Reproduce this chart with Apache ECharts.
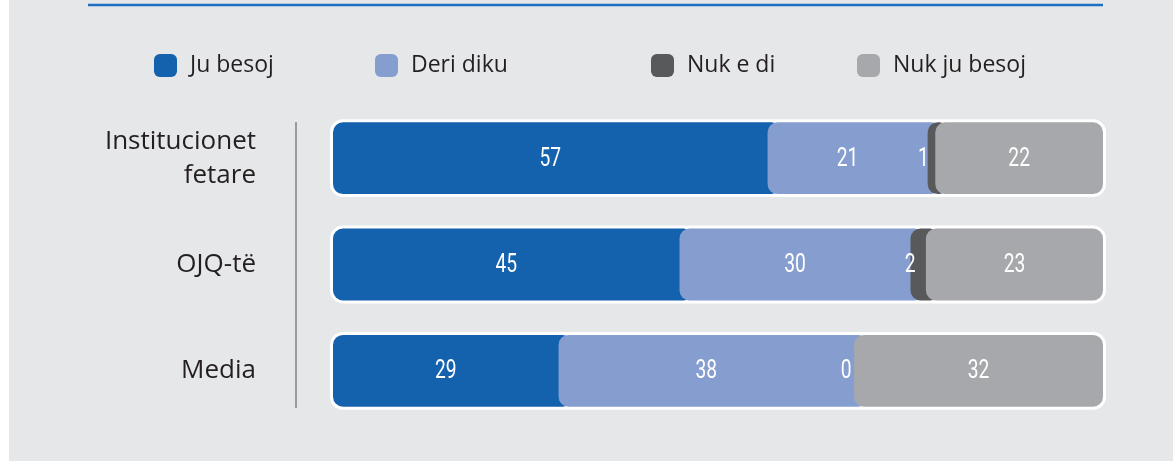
<!DOCTYPE html>
<html>
<head>
<meta charset="utf-8">
<script src="https://cdn.jsdelivr.net/npm/echarts@6/dist/echarts.min.js"></script>
<style>
  html, body { margin: 0; padding: 0; background: #fff; }
  #chart { width: 1173px; height: 461px; }
</style>
</head>
<body>
<div id="chart"></div>
<script>
const categories = ['Institucionet\nfetare', 'OJQ-të', 'Media'];
const seriesNames = ['Ju besoj', 'Deri diku', 'Nuk e di', 'Nuk ju besoj'];
const juBesoj = [57, 45, 29];
const deriDiku = [21, 30, 38];
const nukEDi = [1, 2, 0];
const nukJuBesoj = [22, 23, 32];
const colors = ['#1461ae', '#859dcf', '#58595b', '#a7a8ab'];
const legendLeft = [154, 375, 651, 857];

const allValues = [juBesoj, deriDiku, nukEDi, nukJuBesoj];

// every row is drawn as 100% of its own total
const rows = categories.map((c, i) => {
  const total = allValues.reduce((s, arr) => s + arr[i], 0);
  let acc = 0;
  return allValues.map(arr => {
    const start = acc / total * 100;
    acc += arr[i];
    return [start, acc / total * 100, i, arr[i]];
  });
});

const chart = echarts.init(document.getElementById('chart'));

function frameItem(params, api) {
  const cat = api.value(2);
  const p0 = api.coord([api.value(0), cat]);
  const p1 = api.coord([api.value(1), cat]);
  const h = api.size([0, 1])[1] * 0.675;
  return {
    type: 'rect',
    shape: { x: p0[0] - 3, y: p0[1] - h / 2 - 3, width: p1[0] - p0[0] + 6, height: h + 6, r: 13 },
    style: { fill: '#ffffff' }
  };
}

function segmentItem(k) {
  return function (params, api) {
    const cat = api.value(2);
    const val = api.value(3);
    const p0 = api.coord([api.value(0), cat]);
    const p1 = api.coord([api.value(1), cat]);
    const h = api.size([0, 1])[1] * 0.675;
    const last = k === allValues.length - 1;
    const children = [];
    if (val > 0) {
      children.push({
        type: 'rect',
        shape: { x: p0[0], y: p0[1] - h / 2, width: p1[0] - p0[0] + (last ? 0 : 14), height: h, r: 10 },
        style: { fill: colors[k] }
      });
    }
    const off = k === 2 ? -8 : 0;
    // narrow digits like the original condensed face
    children.push({
      type: 'text',
      z2: 10,
      x: (p0[0] + p1[0]) / 2 + off,
      y: p0[1] + 1,
      scaleX: 0.74,
      style: {
        text: String(val),
        x: 0, y: 0,
        align: 'center', verticalAlign: 'middle',
        textAlign: 'center', textVerticalAlign: 'middle',
        fill: '#ffffff',
        font: '26px Roboto, sans-serif'
      }
    });
    return { type: 'group', children: children };
  };
}

const series = [{
  type: 'custom',
  name: 'frame',
  renderItem: frameItem,
  encode: { x: [0, 1], y: 2 },
  data: categories.map((c, i) => [0, 100, i]),
  silent: true
}];
seriesNames.forEach((name, k) => {
  series.push({
    type: 'custom',
    name: name,
    itemStyle: { color: colors[k] },
    renderItem: segmentItem(k),
    encode: { x: [0, 1], y: 2 },
    data: rows.map(r => r[k])
  });
});

const option = {
  backgroundColor: '#ffffff',
  animation: false,
  graphic: [
    { type: 'rect', z: -10, shape: { x: 9, y: 0, width: 1164, height: 461 }, style: { fill: '#e6e7e9' } },
    { type: 'line', shape: { x1: 88, y1: 5, x2: 1103, y2: 5 }, style: { stroke: '#1f6fc0', lineWidth: 2.5 } },
    { type: 'line', shape: { x1: 296, y1: 122, x2: 296, y2: 408 }, style: { stroke: '#808184', lineWidth: 1.5 } }
  ],
  legend: seriesNames.map((n, i) => ({
    data: [n],
    left: legendLeft[i],
    top: 54,
    padding: 0,
    icon: 'roundRect',
    itemWidth: 23,
    itemHeight: 23,
    selectedMode: false,
    textStyle: {
      color: '#231f20',
      fontSize: 23,
      fontFamily: '"Open Sans", sans-serif',
      padding: [0, 0, 0, 8]
    }
  })),
  grid: { left: 333, right: 70, top: 105, bottom: 37 },
  xAxis: { type: 'value', min: 0, max: 100, show: false },
  yAxis: {
    type: 'category',
    data: categories,
    inverse: true,
    axisLine: { show: false },
    axisTick: { show: false },
    axisLabel: {
      margin: 77,
      color: '#231f20',
      fontSize: 26,
      lineHeight: 34,
      fontFamily: '"Open Sans", sans-serif'
    }
  },
  series: series
};

chart.setOption(option);
</script>
</body>
</html>
